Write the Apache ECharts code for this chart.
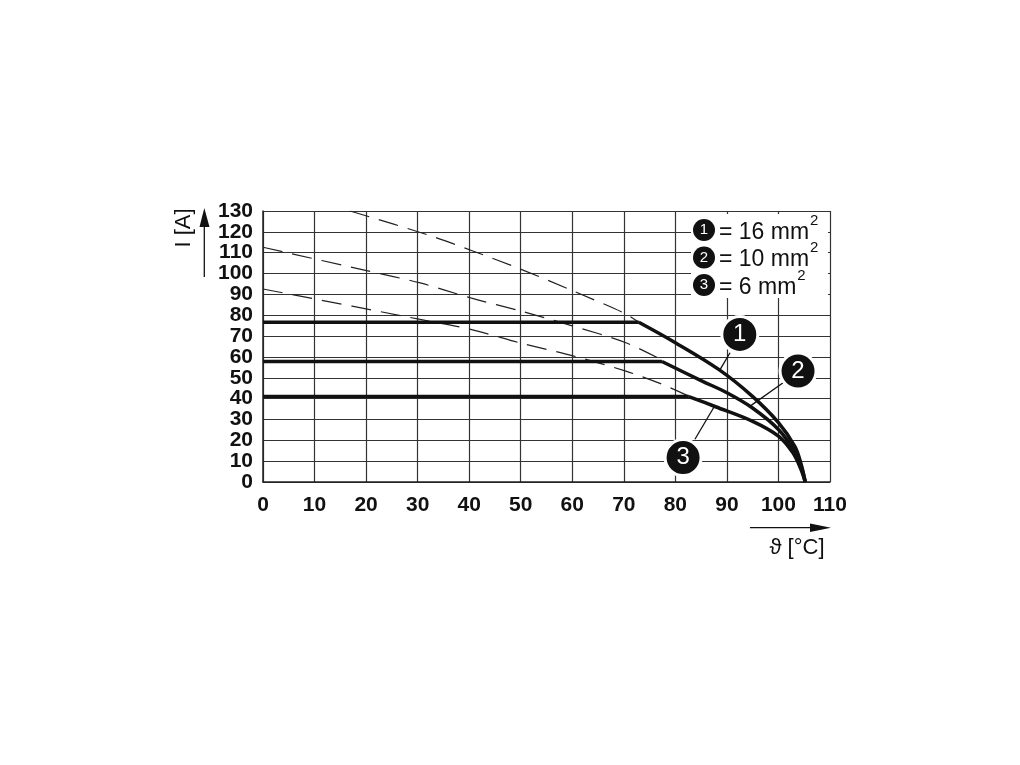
<!DOCTYPE html>
<html>
<head>
<meta charset="utf-8">
<script src="https://cdn.jsdelivr.net/npm/echarts@6/dist/echarts.min.js"></script>
<style>
  html, body { margin: 0; background: #fff; }
  #chart { width: 1020px; height: 765px; }
</style>
</head>
<body>
<div id="chart"></div>
<script>
// derating curves: [temperature °C, current A]
const flat16 = [[0, 76.6], [72.9, 76.6]]
const drop16 = [[72.9, 76.6], [80, 66.8], [88.4, 54], [94.9, 41.2], [100, 28.5], [103.2, 17], [104.4, 8.5], [105.2, 0]]
const flat10 = [[0, 57.8], [77.4, 57.8]]
const drop10 = [[77.4, 57.8], [85.2, 48.4], [90, 42.8], [94.9, 35.6], [100, 25.2], [103.2, 14.5], [104.4, 7.5], [105.2, 0]]
const flat6 = [[0, 41], [82.6, 41]]
const drop6 = [[82.6, 41], [87.8, 36.1], [94.9, 29.2], [100, 22], [102.8, 14], [104.3, 6.5], [105.2, 0]]

// dashed extensions
const dash16 = [[16.9, 130], [31.8, 118.7], [40.3, 111.2], [50.2, 101.9], [60.3, 91.5], [69.9, 81.2], [72.9, 76.6]]
const dash10 = [[0, 112.6], [20.1, 101.4], [30.5, 95.5], [40.3, 88.3], [50.2, 81.9], [60.3, 74.7], [70.4, 66.8], [77.4, 58.5]]
const dash6 = [[0, 92.6], [30.5, 78], [40.3, 73.2], [50.2, 66.5], [60.3, 60.4], [70.4, 53.2], [77, 47.3], [82.6, 41.2]]

// callout bubbles and their leader lines
const calloutLabels = ['1', '2', '3']
const calloutPos = [[92.5, 70.8], [103.8, 53.2], [81.5, 11.7]]
const leaderLines = [
  [[90.6, 62], [88.7, 54]],
  [[100.9, 47.6], [94.5, 36.4]],
  [[83.8, 20.5], [87.7, 36.8]],
]

const legendRows = ['= 16 mm', '= 10 mm', '= 6 mm']
const FONT = '"Liberation Sans", Arial, Helvetica, sans-serif'

const chart = echarts.init(document.getElementById('chart'))

const solid = (data, extra) => Object.assign({
  type: 'line',
  data: data,
  showSymbol: false,
  symbol: 'none',
  lineStyle: { color: '#111', width: 3.5 },
  z: 5,
  silent: true,
}, extra || {})

const dashed = (data) => ({
  type: 'line',
  data: data,
  smooth: 0.3,
  symbol: 'none',
  lineStyle: { color: '#222', width: 1.2, type: [20, 10] },
  z: 4,
  silent: true,
})

const tickLabel = {
  color: '#111',
  fontSize: 21,
  fontWeight: 'bold',
  fontFamily: FONT,
}

const option = {
  animation: false,
  backgroundColor: '#fff',
  grid: { left: 263, right: 190, top: 211, bottom: 283, containLabel: false },
  xAxis: {
    type: 'value',
    min: 0,
    max: 110,
    interval: 10,
    axisLine: { lineStyle: { color: '#222', width: 1.5 } },
    axisTick: { show: false },
    axisLabel: Object.assign({}, tickLabel, { margin: 13 }),
    splitLine: { show: true, lineStyle: { color: '#333', width: 1.2 } },
  },
  yAxis: {
    type: 'value',
    min: 0,
    max: 130,
    interval: 10,
    axisLine: { show: true, lineStyle: { color: '#222', width: 1.5 } },
    axisTick: { show: false },
    axisLabel: Object.assign({}, tickLabel, { margin: 10 }),
    splitLine: { show: true, lineStyle: { color: '#333', width: 1.2 } },
  },
  series: [
    dashed(dash16),
    dashed(dash10),
    dashed(dash6),
    solid(flat16),
    solid(drop16, { smooth: 0.35 }),
    solid(flat10),
    solid(drop10, { smooth: 0.35 }),
    solid(flat6),
    solid(drop6, {
      smooth: 0.35,
      markLine: {
        silent: true,
        symbol: 'none',
        label: { show: false },
        lineStyle: { color: '#111', width: 1.3, type: 'solid' },
        data: leaderLines.map((l) => [{ coord: l[0] }, { coord: l[1] }]),
      },
      markPoint: {
        silent: true,
        symbol: 'circle',
        symbolSize: 36,
        itemStyle: { color: '#111', borderColor: '#fff', borderWidth: 3 },
        label: { show: true, color: '#fff', fontSize: 24, fontFamily: FONT, formatter: (p) => p.name },
        data: calloutPos.map((c, i) => ({ name: calloutLabels[i], coord: c })),
      },
    }),
  ],
  graphic: [
    // legend box
    { type: 'rect', shape: { x: 691, y: 214, width: 137, height: 84 }, style: { fill: '#fff' }, z: 50 },
    ...legendRows.flatMap((txt, i) => [
      { type: 'circle', shape: { cx: 704, cy: 230 + i * 27.5, r: 11 }, style: { fill: '#111' }, z: 51 },
      {
        type: 'text', x: 704, y: 230 + i * 27.5, z: 52,
        style: { text: calloutLabels[i], fill: '#fff', font: '15px ' + FONT, align: 'center', verticalAlign: 'middle' },
      },
      {
        type: 'text', x: 719, y: 231 + i * 27.5, z: 52,
        style: {
          text: '{a|' + txt + '}{s|2}',
          verticalAlign: 'middle',
          rich: {
            a: { fontSize: 23, fontFamily: FONT, fill: '#111', lineHeight: 26, verticalAlign: 'bottom' },
            s: { fontSize: 15, fontFamily: FONT, fill: '#111', lineHeight: 26, verticalAlign: 'top', padding: [-5, 0, 0, 1] },
          },
        },
      },
    ]),
    // y axis name and arrow
    {
      type: 'text', x: 184, y: 228, rotation: Math.PI / 2, z: 20,
      style: { text: 'I [A]', font: '22px ' + FONT, fill: '#111', align: 'center', verticalAlign: 'middle' },
    },
    { type: 'line', shape: { x1: 204.3, y1: 277, x2: 204.3, y2: 224 }, style: { stroke: '#111', lineWidth: 1.3 }, z: 20 },
    { type: 'polygon', shape: { points: [[199.5, 227], [209.5, 227], [204.3, 208]] }, style: { fill: '#111' }, z: 20 },
    // x axis name and arrow
    { type: 'line', shape: { x1: 750, y1: 527.7, x2: 814, y2: 527.7 }, style: { stroke: '#111', lineWidth: 1.3 }, z: 20 },
    { type: 'polygon', shape: { points: [[810, 523.5], [810, 532], [831, 527.7]] }, style: { fill: '#111' }, z: 20 },
    {
      type: 'text', x: 797, y: 548, z: 20,
      style: { text: 'ϑ [°C]', font: '22px ' + FONT, fill: '#111', align: 'center', verticalAlign: 'middle' },
    },
  ],
}

chart.setOption(option)
</script>
</body>
</html>
